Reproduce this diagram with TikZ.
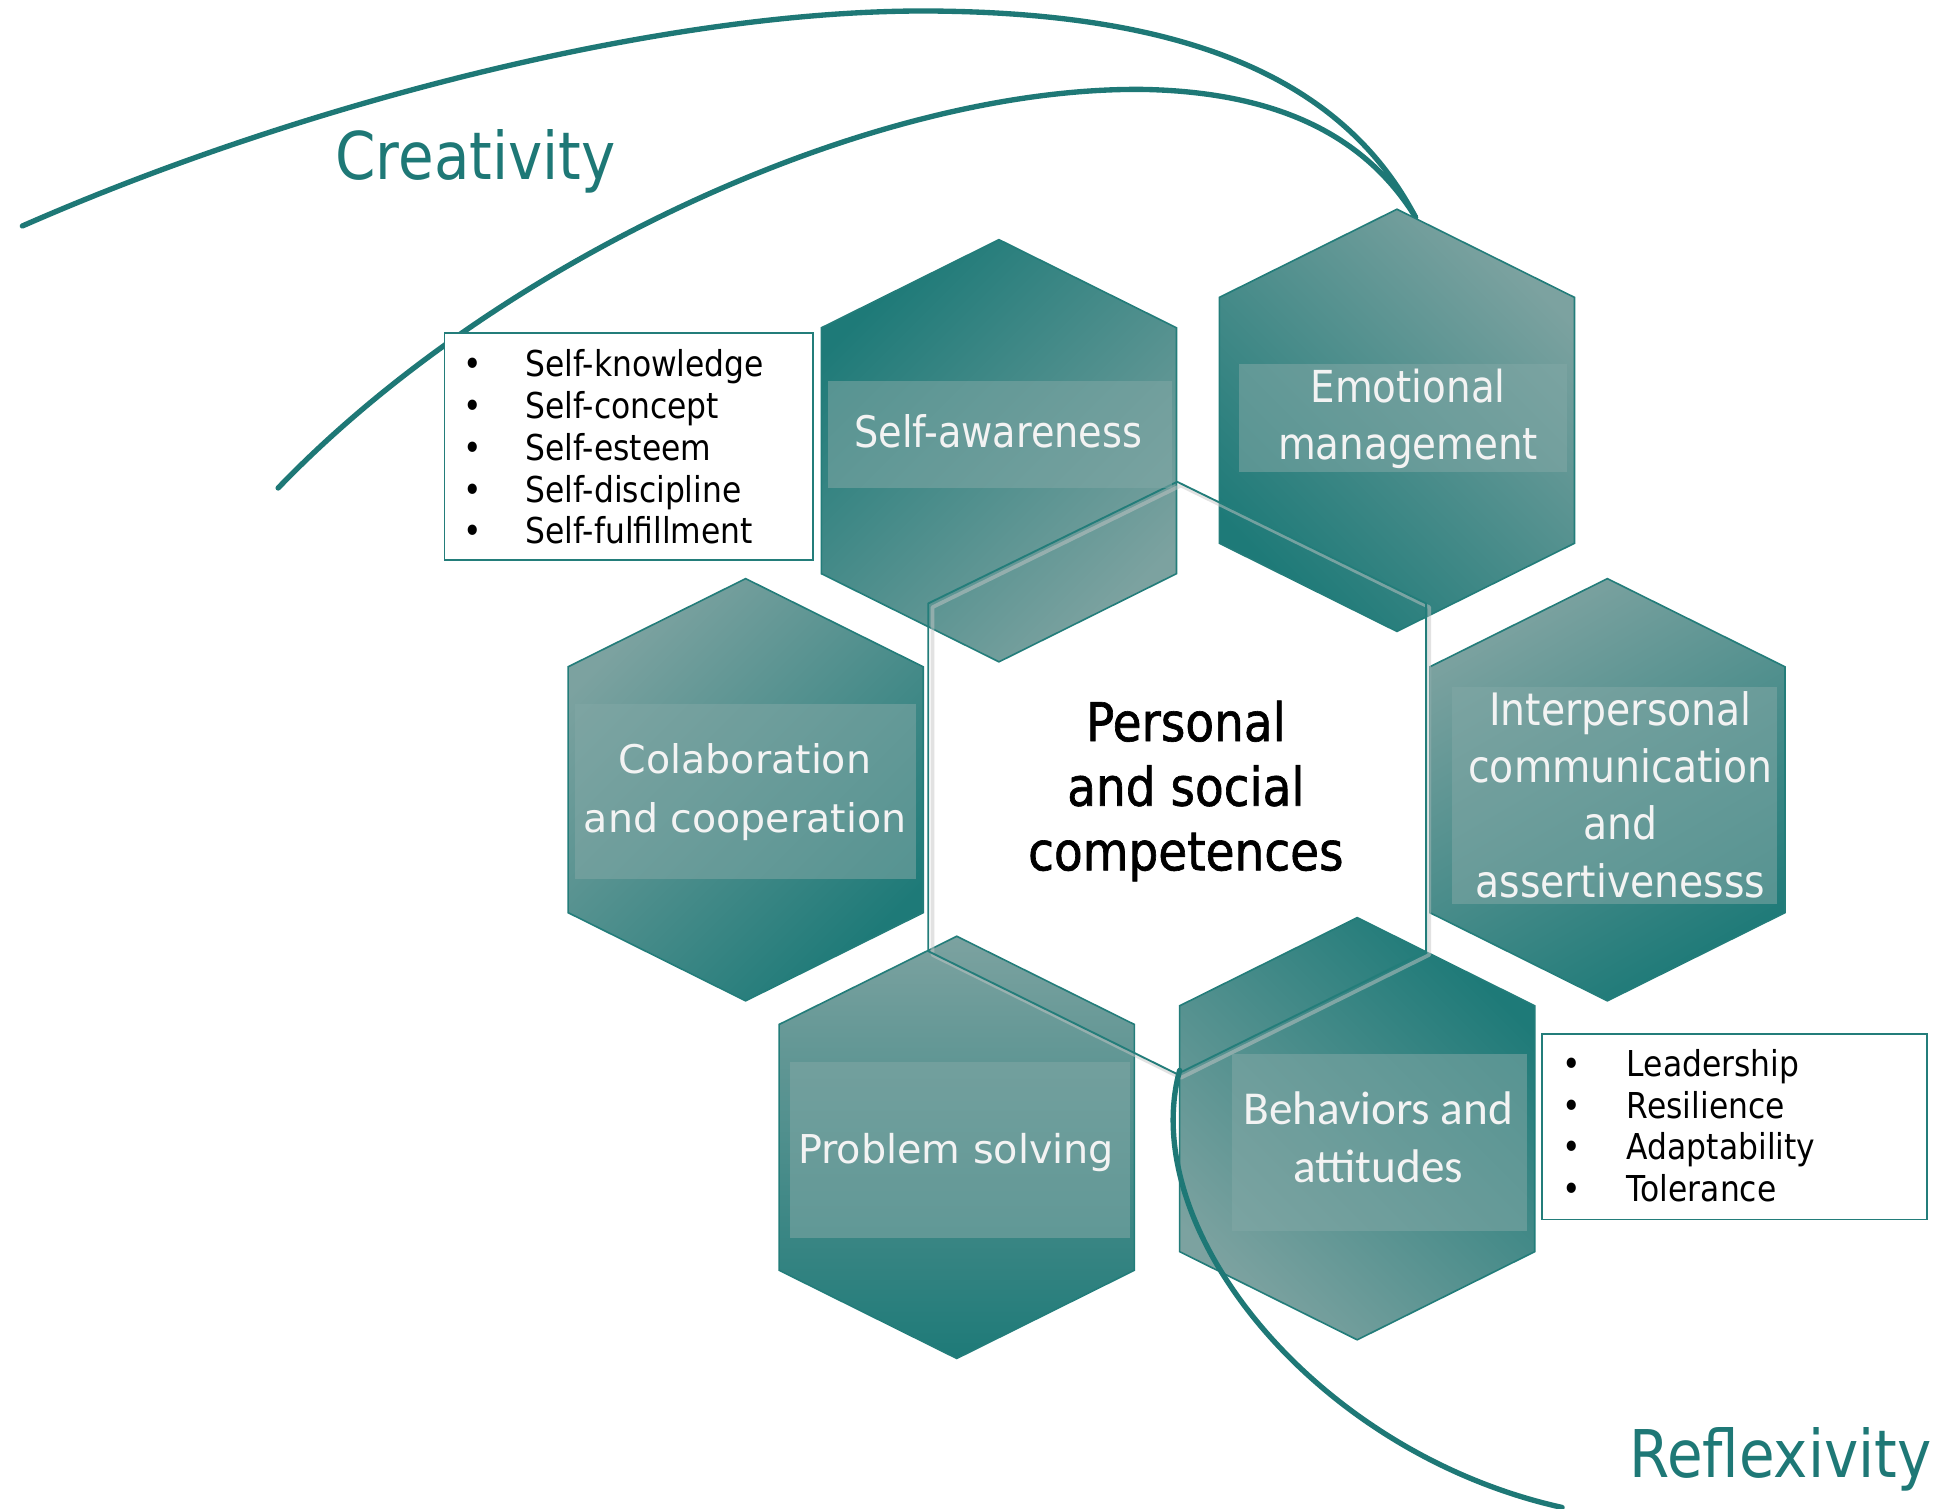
\documentclass[tikz,border=0pt]{standalone}
\usepackage{fontspec}
\setmainfont{DejaVu Sans}
\newfontfamily\tah[FakeStretch=0.88]{DejaVu Sans}
\newfontfamily\tahb[FakeStretch=0.88,FakeBold=1.2]{DejaVu Sans}
\newfontfamily\verd{DejaVu Sans}
\newfontfamily\cali{Carlito}
\definecolor{tdark}{RGB}{30,122,120}
\definecolor{tlight}{RGB}{124,162,160}
\definecolor{tline}{RGB}{35,125,122}
\definecolor{tband}{RGB}{130,168,166}
\definecolor{txtw}{RGB}{243,243,243}
\definecolor{tteal}{RGB}{30,120,118}
\newcommand\hexshape[3]{%
\shadedraw[draw=tline, line width=1.3pt, left color=tdark, right color=tlight, shading angle=#3]
 (#1,{#2-170}) -- ({#1+143},{#2-99}) -- ({#1+143},{#2+99}) -- (#1,{#2+170}) -- ({#1-143},{#2+99}) -- ({#1-143},{#2-99}) -- cycle;}
\tikzset{
  arcline/.style={draw=tteal, line width=4.3pt, line cap=round},
  band/.style={fill=tband, opacity=0.55},
  hextext/.style={text=txtw, align=center, inner sep=0pt},
  listbox/.style={draw=tline, line width=1.4pt, fill=white, inner sep=0pt},
  listtext/.style={text=black, align=left, inner sep=0pt, font=\tah\fontsize{28.7}{33.6}\selectfont},
  biglabel/.style={text=tteal, inner sep=0pt, font=\tah\fontsize{53}{60}\selectfont}
}
\begin{document}
\begin{tikzpicture}[x=1pt,y=-1pt]
\path[use as bounding box] (0,0) rectangle (1568,1215);
\fill[white] (0,0) rectangle (1568,1215);

% creativity arcs
\draw[arcline] (18,182) .. controls (250,80) and (550,5) .. (760,9)
  .. controls (950,12) and (1080,60) .. (1140,175);
\draw[arcline] (224,393) .. controls (400,210) and (700,70) .. (920,72)
  .. controls (1030,74) and (1100,110) .. (1140,175);

% hexagons
\hexshape{804.5}{363}{45}
\hexshape{1125}{338.5}{135}
\hexshape{600.5}{636}{225}
\hexshape{1294.5}{636}{210}
\hexshape{770.5}{924}{180}
\hexshape{1093}{909}{-45}

% central hexagon outline
\draw[gray!45, line width=3pt, opacity=0.5, line join=round]
 (951,391) -- (1151,489) -- (1151,769) -- (951,868) -- (751,769) -- (751,489) -- cycle;
\draw[tline, line width=1.5pt, line join=round]
 (948,388) -- (1148.5,486) -- (1148.5,766) -- (948,865) -- (747.5,766) -- (747.5,486) -- cycle;

% text bands
\fill[band] (667,307) rectangle (944,393);
\fill[band] (998,293) rectangle (1262,380);
\fill[band] (463,567) rectangle (738,708);
\fill[band] (1169,553) rectangle (1431,728);
\fill[band] (636,855) rectangle (910,997);
\fill[band] (992,849) rectangle (1230,991);

% hex labels
\node[hextext, font=\tah\fontsize{35}{46}\selectfont] (selfaw) at (804,347) {Self-awareness};
\node[hextext, font=\tah\fontsize{35.5}{46}\selectfont] (emo) at (1134,337) {Emotional\\management};
\node[hextext, font=\verd\fontsize{31.8}{47}\selectfont] (colab) at (600,638) {Colaboration\\and cooperation};
\node[hextext, font=\tah\fontsize{36}{46}\selectfont] (inter) at (1305,640) {Interpersonal\\communication\\and\\assertivenesss};
\node[hextext, font=\verd\fontsize{32}{47}\selectfont] (prob) at (770,928) {Problem solving};
\node[hextext, font=\cali\fontsize{38}{47}\selectfont] (behav) at (1110,916) {Behaviors and\\attitudes};

% central label
\node[text=black, align=center, inner sep=0pt, font=\tahb\fontsize{43}{52}\selectfont] (center) at (955,637) {Personal\\and social\\competences};

% list boxes
\node[listbox, minimum width=297pt, minimum height=183pt] (selfbox) at (506.5,359.5) {};
\node[listtext, anchor=west] (selflist) at (373,360) {%
\makebox[50pt][l]{\textbullet}Self-knowledge\\
\makebox[50pt][l]{\textbullet}Self-concept\\
\makebox[50pt][l]{\textbullet}Self-esteem\\
\makebox[50pt][l]{\textbullet}Self-discipline\\
\makebox[50pt][l]{\textbullet}Self-fulfillment};

\node[listbox, minimum width=310pt, minimum height=149pt] (behbox) at (1397,907.5) {};
\node[listtext, anchor=west] (behlist) at (1258,906.5) {%
\makebox[52pt][l]{\textbullet}Leadership\\
\makebox[52pt][l]{\textbullet}Resilience\\
\makebox[52pt][l]{\textbullet}Adaptability\\
\makebox[52pt][l]{\textbullet}Tolerance};

% reflexivity arc
\draw[arcline] (950,862) .. controls (915,990) and (1060,1170) .. (1258,1214);

% big labels
\node[biglabel] (creat) at (383,130) {Creativity};
\node[biglabel] (refl) at (1434,1175) {Reflexivity};
\end{tikzpicture}
\end{document}
